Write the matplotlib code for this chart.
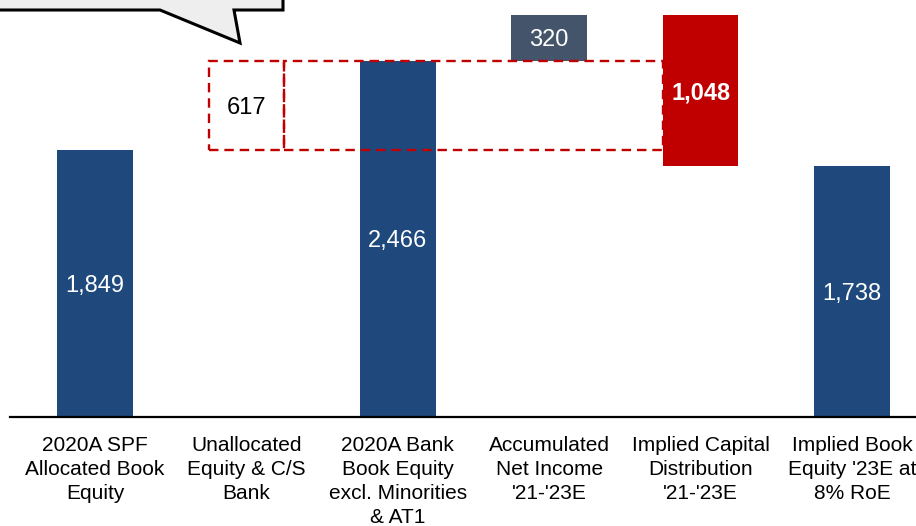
import numpy as np
import matplotlib.pyplot as plt
from matplotlib.patches import Rectangle, Polygon

plt.rcParams['font.family'] = ['Liberation Sans', 'DejaVu Sans']

labels = ["2020A SPF\nAllocated Book\nEquity",
          "Unallocated\nEquity & C/S\nBank",
          "2020A Bank\nBook Equity\nexcl. Minorities\n& AT1",
          "Accumulated\nNet Income\n'21-'23E",
          "Implied Capital\nDistribution\n'21-'23E",
          "Implied Book\nEquity '23E at\n8% RoE"]
spf_equity = 1849
unallocated = 617
bank_equity = 2466
net_income = 320
distribution = 1048
implied_equity = 1738

navy = "#1F497D"
slate = "#44546A"
red = "#C00000"

W, H = 916, 526
fig = plt.figure(figsize=(W / 100, H / 100), dpi=100)
# axes from x=10px to right edge, baseline at y=417px, top at y=0
ax = fig.add_axes([10 / W, (H - 417) / H, (W - 10) / W, 417 / H])
px_per_cat = 151.4
ax.set_xlim((10 - 95) / px_per_cat, (W - 95) / px_per_cat)
ax.set_ylim(0, 417 / 0.1444)

x = np.arange(len(labels))
bw = 0.5

# totals
ax.bar([0, 2, 5], [spf_equity, bank_equity, implied_equity], width=bw, color=navy, zorder=2)
# accumulated net income
ax.bar(3, net_income, bottom=bank_equity, width=bw, color=slate, zorder=2)

# dashed unallocated box and bridge box
dash = (0, (4, 2.5))
ax.bar(1, unallocated, bottom=spf_equity, width=bw, fill=False, edgecolor=red,
       linestyle=dash, linewidth=1.7, zorder=3)
ax.add_patch(Rectangle((1 + bw / 2, spf_equity), 4 - bw - 1, bank_equity - spf_equity,
                       fill=False, edgecolor=red, linestyle=dash, linewidth=1.7, zorder=3))

# capital distribution (negative)
ax.bar(4, distribution, bottom=bank_equity + net_income - distribution, width=bw,
       color=red, zorder=4)

vfs = 17
va = "center_baseline"
ax.text(0, spf_equity / 2, f"{spf_equity:,}", ha="center", va=va, color="white", fontsize=vfs, zorder=5)
ax.text(1, spf_equity + unallocated / 2, f"{unallocated:,}", ha="center", va=va, color="black", fontsize=vfs, zorder=5)
ax.text(2, bank_equity / 2, f"{bank_equity:,}", ha="center", va=va, color="white", fontsize=vfs, zorder=5)
ax.text(3, bank_equity + net_income / 2, f"{net_income:,}", ha="center", va=va, color="white", fontsize=vfs, zorder=5)
ax.text(4, bank_equity + net_income - distribution / 2, f"{distribution:,}", ha="center", va=va,
        color="white", fontsize=vfs, fontweight="bold", zorder=5)
ax.text(5, implied_equity / 2, f"{implied_equity:,}", ha="center", va=va, color="white", fontsize=vfs, zorder=5)

ax.set_xticks(x)
ax.set_xticklabels(labels, fontsize=15, linespacing=1.32)
ax.tick_params(axis="x", length=0, pad=14)
ax.set_yticks([])
for s in ["top", "left", "right"]:
    ax.spines[s].set_visible(False)
ax.spines["bottom"].set_linewidth(1.6)

# speech bubble callout (cropped at top-left)
pts = [(-10, -10), (283, -10), (283, 10), (234, 10), (240, 43), (160, 10), (-10, 10)]
bubble = Polygon([(px / W, 1 - py / H) for px, py in pts], closed=True,
                 transform=fig.transFigure, facecolor="#EEEEEE", edgecolor="black",
                 linewidth=2.2, joinstyle="miter", clip_on=False)
fig.patches.append(bubble)

fig.savefig("out.png", dpi=100)
